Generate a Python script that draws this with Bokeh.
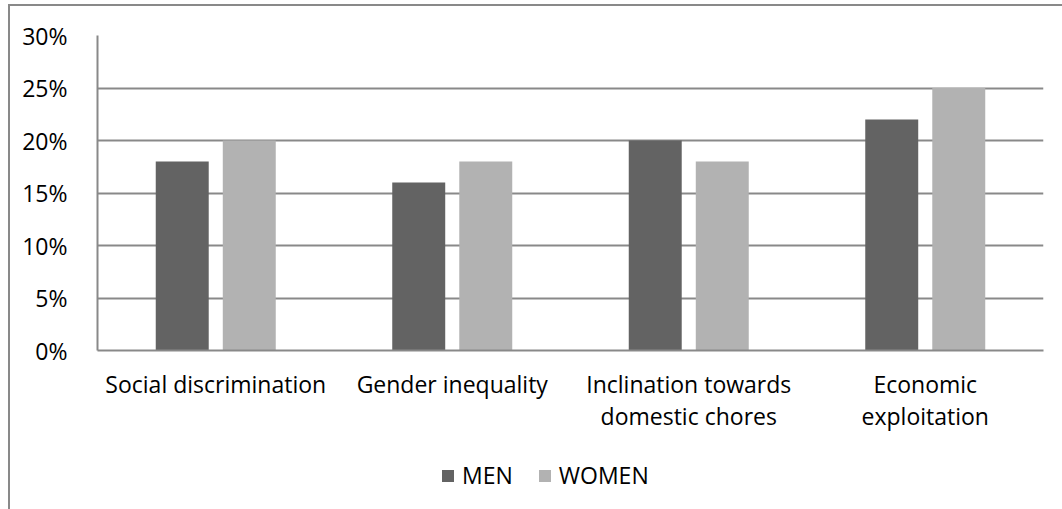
from bokeh.plotting import figure
from bokeh.layouts import column
from bokeh.models import (Range1d, FixedTicker, Legend, LegendItem,
                          NumeralTickFormatter, ColumnDataSource)
from bokeh.embed import file_html
from bokeh.resources import INLINE

categories = ["Social discrimination", "Gender inequality",
              "Inclination towards\ndomestic chores", "Economic\nexploitation"]
series_names = ["MEN", "WOMEN"]
men = [0.18, 0.16, 0.20, 0.22]
women = [0.20, 0.18, 0.18, 0.25]
y_ticks = [0.0, 0.05, 0.10, 0.15, 0.20, 0.25, 0.30]

MEN_COLOR = "#636363"
WOMEN_COLOR = "#b2b2b2"
GRID = "#898989"
FONT = "Open Sans"
FONT_SIZE = "23px"

centers = [i + 0.5 for i in range(len(categories))]
offset = 0.1417
bar_w = 0.224

src = ColumnDataSource(dict(
    xm=[c - offset for c in centers], xw=[c + offset for c in centers],
    men=men, women=women))

# main chart
p = figure(width=1052, height=440, output_backend="svg", toolbar_location=None,
           x_range=Range1d(0, len(categories)), y_range=Range1d(0, 0.30),
           min_border_left=87, min_border_right=19, min_border_top=29,
           min_border_bottom=96)
p.outline_line_color = None
p.background_fill_color = "white"
p.border_fill_color = "white"

p.vbar(x="xm", top="men", width=bar_w, source=src,
       fill_color=MEN_COLOR, line_color=None)
p.vbar(x="xw", top="women", width=bar_w, source=src,
       fill_color=WOMEN_COLOR, line_color=None)

p.yaxis.ticker = FixedTicker(ticks=y_ticks)
p.yaxis.formatter = NumeralTickFormatter(format="0%")
p.yaxis.major_tick_line_color = None
p.yaxis.minor_tick_line_color = None
p.yaxis.axis_line_color = GRID
p.yaxis.axis_line_width = 2
p.yaxis.major_label_standoff = 24
p.yaxis.major_label_text_font = FONT
p.yaxis.major_label_text_font_size = FONT_SIZE
p.yaxis.major_label_text_color = "#000000"

p.xaxis.ticker = FixedTicker(ticks=centers)
p.xaxis.major_label_overrides = {c: lab for c, lab in zip(centers, categories)}
p.xaxis.major_tick_line_color = None
p.xaxis.minor_tick_line_color = None
p.xaxis.axis_line_color = GRID
p.xaxis.axis_line_width = 2
p.xaxis.major_label_standoff = 11
p.xaxis.major_label_text_font = FONT
p.xaxis.major_label_text_font_size = FONT_SIZE
p.xaxis.major_label_text_color = "#000000"
p.xaxis.major_label_text_line_height = 1.0

p.xgrid.grid_line_color = None
p.ygrid.ticker = FixedTicker(ticks=y_ticks)
p.ygrid.grid_line_color = GRID
p.ygrid.grid_line_width = 2

# legend strip underneath the chart; its swatch renderers are zero-height bars
q = figure(width=1052, height=63, output_backend="svg", toolbar_location=None,
           x_range=Range1d(0, 1), y_range=Range1d(0, 1),
           x_axis_type=None, y_axis_type=None,
           min_border_left=87, min_border_right=19,
           min_border_top=0, min_border_bottom=0)
q.outline_line_color = None
q.grid.visible = False
q.background_fill_color = "white"
q.border_fill_color = "white"
lm = q.vbar(x=[0.5], top=[0], bottom=[0], width=0.1,
            fill_color=MEN_COLOR, line_color=None)
lw = q.vbar(x=[0.5], top=[0], bottom=[0], width=0.1,
            fill_color=WOMEN_COLOR, line_color=None)

legend = Legend(items=[LegendItem(label=series_names[0], renderers=[lm]),
                       LegendItem(label=series_names[1], renderers=[lw])],
                orientation="horizontal", location=(343, 18),
                label_text_font=FONT, label_text_font_size=FONT_SIZE,
                label_text_color="#000000",
                glyph_width=15, glyph_height=15, spacing=24,
                label_standoff=7, border_line_color=None,
                background_fill_alpha=0, margin=0, padding=0)
q.add_layout(legend, "center")

layout = column(p, q, spacing=0)
layout.styles = {"margin-left": "8px", "margin-top": "4px",
                 "border-left": "2px solid #898989", "border-top": "2px solid #898989"}

open("out.html", "w").write(file_html(layout, INLINE))
